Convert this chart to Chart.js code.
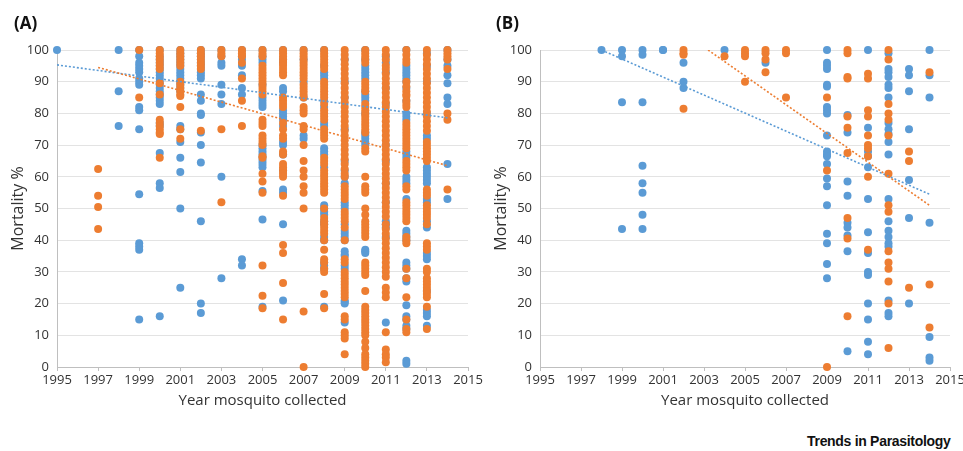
<!DOCTYPE html>
<html>
<head>
<meta charset="utf-8">
<script src="https://cdn.jsdelivr.net/npm/chart.js@4.4.1/dist/chart.umd.min.js"></script>
<style>
    body { margin: 0; background: #fff; overflow: hidden; width: 963px; height: 451px; position: relative; font-family: "Open Sans", sans-serif; }
    .panel { position: absolute; top: 0; height: 420px; }
    .tag { position: absolute; top: 11px; font: bold 17px "Open Sans", sans-serif; color: #111; }
    #brand { position: absolute; left: 807px; top: 433px; font: bold 14px "Liberation Sans", Arial, sans-serif; letter-spacing: -0.3px; color: #111; }
</style>
</head>
<body>
<div class="panel" style="left:0;width:490px"><canvas id="chartA" width="490" height="420"></canvas></div>
<div class="panel" style="left:480px;width:500px"><canvas id="chartB" width="500" height="420"></canvas></div>
<div class="tag" style="left:14px">(A)</div>
<div class="tag" style="left:496px">(B)</div>
<div id="brand">Trends in Parasitology</div>
<script>
// years on the x axis (one list of mortality values per year)
const years = [1995, 1996, 1997, 1998, 1999, 2000, 2001, 2002, 2003, 2004,
               2005, 2006, 2007, 2008, 2009, 2010, 2011, 2012, 2013, 2014];

// panel A, blue series
const blueA = [
    [100],
    [],
    [],
    [100, 87, 76],
    [100, 98, 96, 95, 94, 93, 91, 90, 89, 82, 81, 75, 54.5, 39, 38, 37, 15],
    [100, 98, 97, 96, 95, 94, 93, 92, 91, 90, 89, 88, 87, 86, 85, 84, 83, 77, 76, 67.5, 58, 56.5, 16],
    [100, 99, 98, 97, 96, 95, 94, 93, 92, 91, 90, 89, 88, 87, 76, 75, 71, 66, 61.5, 50, 25],
    [100, 99, 98, 97, 96, 95, 94, 93, 92, 91, 86, 84, 80, 79.5, 74, 70, 64.5, 46, 20, 17],
    [100, 98, 96, 95, 89, 86, 83, 60, 28],
    [100, 98, 97, 95, 92, 88, 86, 34, 32],
    [100, 98, 97, 96, 89, 85, 84, 83, 82, 70, 69, 68, 67, 66, 65, 64, 63, 55.5, 46.5, 19],
    [100, 97, 96, 88, 87, 81, 80, 79, 78, 76, 71, 70, 67, 62, 56, 55, 45, 21],
    [100, 97, 90, 85, 73, 72],
    [100, 95, 93, 92, 91, 84, 82, 77, 76, 69, 68, 67, 63, 51, 50, 49, 48, 46, 45, 41, 40, 33, 32, 31, 19],
    [97, 90, 85, 75, 65, 62, 60, 58, 52, 51, 50, 45, 43, 42, 41, 40, 36.5, 35.5, 35, 32, 31, 21, 20.5, 20, 14],
    [100, 97, 95, 94, 93, 92, 91, 87, 86, 85, 84, 80, 74, 73, 72, 71, 70, 37, 36.5, 36],
    [98, 96, 93, 88, 83, 70, 65, 58, 52, 46, 45, 44, 41, 14],
    [100, 95, 94, 93, 92, 91, 90, 88, 84, 80, 79, 78, 68, 67, 66, 60, 59, 58, 53, 43, 42, 41, 40, 33, 32, 31, 28, 27, 19.5, 16, 15, 13, 12, 2, 1],
    [99, 95, 90, 80, 73, 72, 63, 62, 61, 60, 59, 58, 53, 52, 46, 44, 36, 35, 34, 24, 18, 17, 16, 13],
    [100, 97, 95, 92, 89.5, 85, 83, 64, 53]
];

// panel A, orange series
const orangeA = [
    [],
    [],
    [62.5, 54, 50.5, 43.5],
    [],
    [100, 85],
    [100, 99, 98, 97, 96, 95, 94, 89.5, 86, 78, 77, 76, 75, 74, 73.5, 66],
    [100, 99, 98, 97, 96, 95, 90, 89, 88, 87, 86, 85.5, 82, 75, 72],
    [100, 99, 98, 97, 96, 95, 94, 74.5],
    [100, 99, 98, 75, 52],
    [100, 99, 98, 96, 91, 84, 76],
    [100, 99, 98, 95, 94, 93, 92, 91, 90, 89, 88, 87, 86, 78, 77, 76, 73, 72, 71, 70, 66.5, 66, 61, 58.5, 55, 32, 22.5, 18.5],
    [100, 99, 98, 97, 96, 95, 94, 93, 92, 85, 84, 83, 82, 77, 75, 73, 72, 68, 67, 64, 63, 62, 61, 60, 54, 38.5, 36, 26.5, 15],
    [100, 99, 98, 97, 96, 95, 94, 93, 92, 91, 89, 88, 87, 86, 85, 82, 81, 80, 76, 75, 70, 65, 62, 60, 57, 55, 50, 17.5, 0],
    [100, 99, 98, 97, 96, 95, 94, 90, 89, 88, 87, 86, 85, 83, 81, 80, 79, 78, 75, 74, 73, 72, 66, 65, 64, 62, 61, 60, 59, 58, 57, 56, 55, 50, 47, 46, 45, 44, 43, 42, 40, 37, 34, 33, 31, 30, 23, 18.5],
    [100, 98.5, 97, 95.5, 94, 92.5, 91, 89.5, 88, 86.5, 85, 83.5, 82, 80.5, 79, 77.5, 76, 74.5, 73, 71.5, 70, 68.5, 67, 65.5, 64, 62.5, 61, 60, 57, 56, 55, 54, 53, 49, 48, 47, 46, 44, 40, 34, 33, 30, 29, 28, 27, 26, 25, 24, 23, 22, 16, 15, 11, 10, 9, 4],
    [100, 99, 98, 97, 96, 90, 89, 88, 87, 83, 82, 81, 80, 79, 78, 77, 76, 75, 74, 69, 68, 60, 57, 56, 55, 50, 48, 46, 45, 44, 43, 42, 41, 33, 32, 31, 30, 29, 24, 19, 18, 17, 16, 15, 14, 13, 12, 11, 10, 8, 6, 4, 3, 2, 1, 0],
    [100, 98.5, 97, 95, 94, 92.5, 91, 89.5, 88, 86.5, 85, 83.5, 82, 80.5, 79, 77.5, 76, 74.5, 73, 71.5, 70, 68.5, 67, 65.5, 64, 62.5, 61, 59.5, 58, 56.5, 55, 53.5, 52, 50.5, 49, 47.5, 45, 43.5, 42, 40.5, 39, 37.5, 36, 34.5, 33, 31.5, 30, 28.5, 25, 23.5, 22, 11, 5.5, 4, 3, 1.5],
    [100, 98.5, 97, 96, 90, 88.5, 87, 86, 85.5, 84, 83, 82, 77, 76, 75, 74, 73, 72, 71, 70, 69, 65, 64, 63, 62, 57, 56, 52, 51, 50, 49, 48, 47, 46, 41, 40, 39, 31, 28, 22, 15, 12, 11],
    [100, 98.5, 97, 95.5, 94, 92.5, 91, 89.5, 88, 86.5, 85, 83.5, 82, 80.5, 79, 77.5, 76, 74.5, 71, 70, 69, 68, 67, 66, 65, 56, 55, 54, 51, 50, 49, 48, 47, 45, 39, 38, 37, 31, 30, 28, 27, 26, 25, 24, 23, 22, 19, 12],
    [100, 99, 98, 97, 94, 80, 78, 56]
];

// panel B, blue series
const blueB = [
    [], [], [],
    [100],
    [100, 98, 83.5, 43.5],
    [100, 98.5, 83.5, 63.5, 58, 55, 48, 43.5],
    [100, 100],
    [96, 90, 88],
    [],
    [100],
    [],
    [96],
    [],
    [],
    [100, 96, 95, 94, 89, 88.5, 82, 81, 80, 73, 68, 67, 66.5, 64, 59.5, 57, 51, 42, 39, 32.5, 28],
    [79.5, 74, 58.5, 54, 45.5, 44, 41.5, 36.5, 5],
    [100, 75.5, 68, 66.5, 63, 53, 42.5, 36, 30, 29, 20, 15, 8, 4],
    [99, 94, 93, 91.5, 89, 88, 85, 77, 75, 73.5, 71, 67, 53, 46, 43, 41, 39, 38, 21, 17, 16],
    [94, 92, 87, 75, 59, 47, 20],
    [100, 92, 85, 45.5, 9.5, 3, 2]
];

// panel B, orange series
const orangeB = [
    [], [], [], [], [], [], [],
    [100, 99, 98.5, 81.5],
    [],
    [98],
    [100, 99, 98, 90],
    [100, 99, 97, 93],
    [100, 99, 85],
    [],
    [85, 62, 0],
    [100, 99, 91.5, 91, 79, 75.5, 67.5, 47, 40.5, 16],
    [92.5, 91, 81, 79, 73, 70, 69, 66.5, 60, 37],
    [100, 97, 83, 80, 78, 73, 61, 51, 49, 36.5, 33, 31, 27, 20, 6],
    [68, 65, 25],
    [93, 26, 12.5]
];

// linear trend lines, [year, mortality] at both ends
const trendBlueA = [[1995, 95.3], [2014, 78.6]];
const trendOrangeA = [[1997, 94.5], [2014, 63.5]];
const trendBlueB = [[1998, 100], [2014, 54.5]];
const trendOrangeB = [[2003.2, 100], [2014, 51]];

const BLUE = '#5B9BD5';
const ORANGE = '#ED7D31';

function toPoints(lists) {
    let pts = [];
    lists.forEach((vals, i) => vals.forEach(v => pts.push({ x: years[i], y: v })));
    return pts;
}

// order: bigger number is painted first (underneath)
function dotSet(lists, color, order) {
    return {
        data: toPoints(lists),
        backgroundColor: color,
        borderColor: color,
        pointRadius: 4,
        pointBorderWidth: 0,
        showLine: false,
        clip: false,
        order: order
    };
}

function trendSet(ends, color, order) {
    return {
        data: ends.map(p => ({ x: p[0], y: p[1] })),
        borderColor: color,
        borderWidth: 1.6,
        borderDash: [2, 2],
        pointRadius: 0,
        showLine: true,
        fill: false,
        order: order
    };
}

function makeChart(id, blue, orange, trendBlue, trendOrange, axisW, titlePad, padRight) {
    const ctx = document.getElementById(id).getContext('2d');
    return new Chart(ctx, {
        type: 'scatter',
        data: {
            datasets: [
                dotSet(blue, BLUE, 4),
                dotSet(orange, ORANGE, 3),
                trendSet(trendBlue, BLUE, 2),
                trendSet(trendOrange, ORANGE, 1)
            ]
        },
        options: {
            responsive: false,
            animation: false,
            layout: { padding: { top: 50, right: padRight, left: 0, bottom: 0 } },
            plugins: { legend: { display: false }, tooltip: { enabled: false } },
            scales: {
                x: {
                    type: 'linear',
                    min: 1995,
                    max: 2015,
                    afterFit: s => { s.height = 53; },
                    ticks: { stepSize: 2, color: '#333', font: { size: 13, family: 'Open Sans' }, padding: 1, callback: v => String(v) },
                    grid: { display: true, drawOnChartArea: false, drawTicks: true, tickLength: 4, color: '#bfbfbf' },
                    border: { display: true, color: '#bfbfbf' },
                    title: { display: true, text: 'Year mosquito collected', color: '#333', font: { size: 15, family: 'Open Sans' }, padding: { top: 0, bottom: 10 } }
                },
                y: {
                    min: 0,
                    max: 100,
                    afterFit: s => { s.width = axisW; },
                    ticks: { stepSize: 10, color: '#333', font: { size: 13, family: 'Open Sans' }, padding: 8 },
                    grid: { color: '#e3e3e3', drawTicks: false },
                    border: { display: true, color: '#bfbfbf' },
                    title: { display: true, text: 'Mortality %', color: '#333', font: { size: 16, family: 'Open Sans' }, padding: { top: titlePad, bottom: 0 } }
                }
            }
        }
    });
}

makeChart('chartA', blueA, orangeA, trendBlueA, trendOrangeA, 57, 8.5, 22);
makeChart('chartB', blueB, orangeB, trendBlueB, trendOrangeB, 60, 11.5, 30);
</script>
</body>
</html>
